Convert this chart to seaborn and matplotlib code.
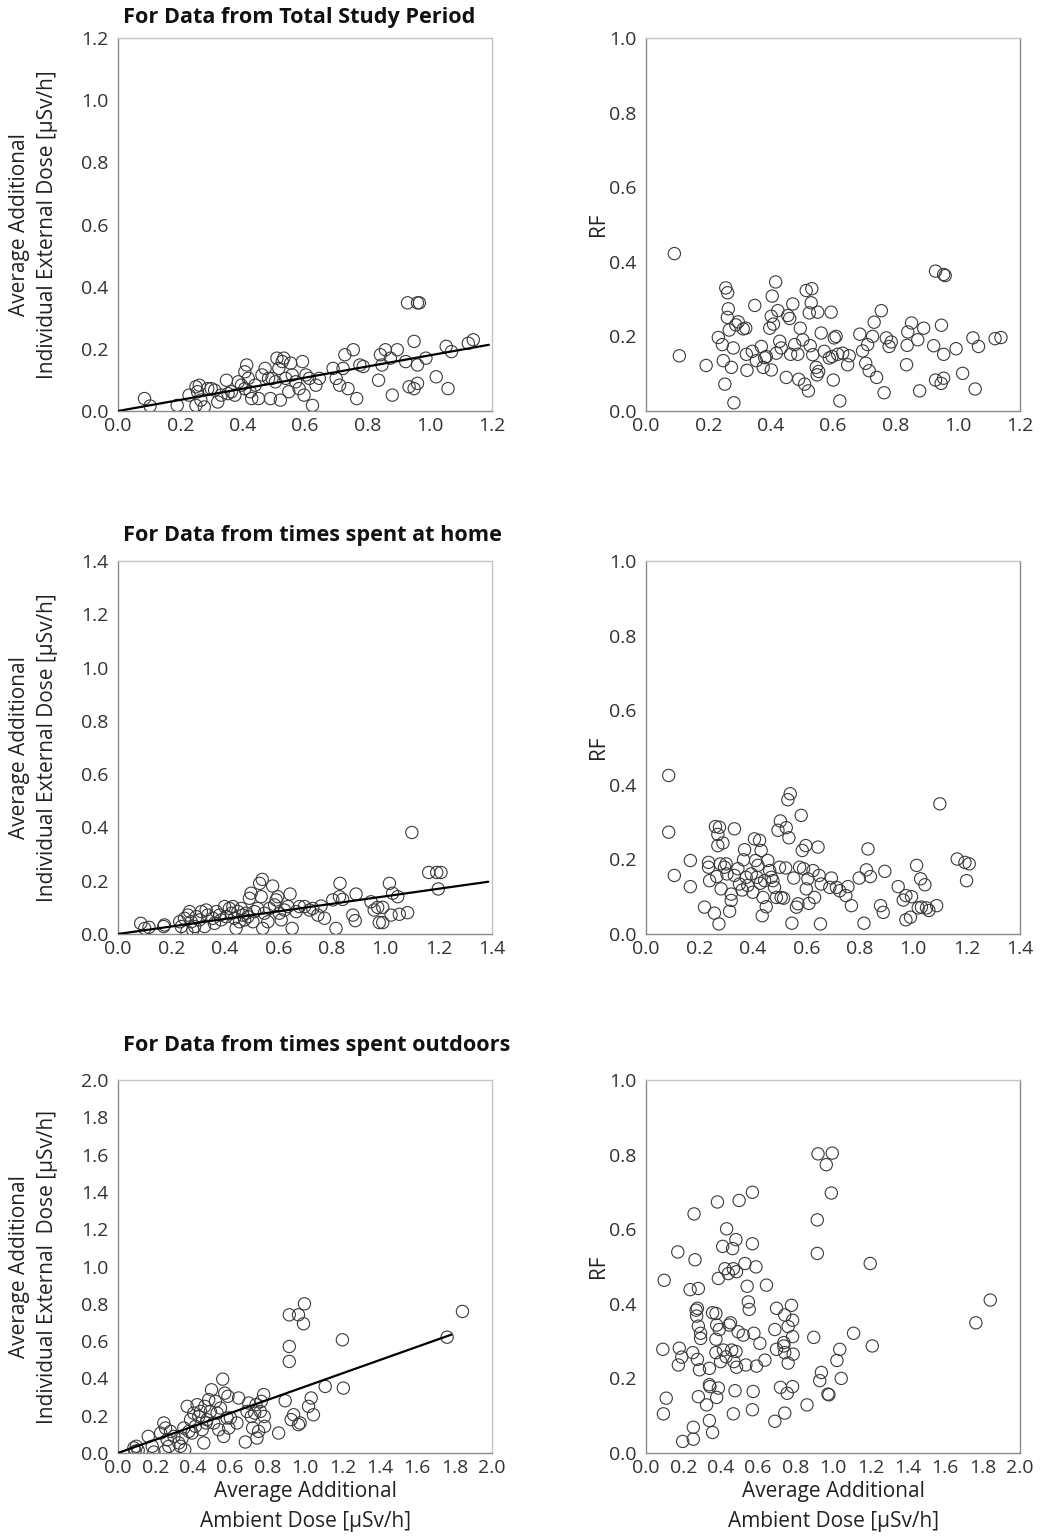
import matplotlib.pyplot as plt
import seaborn as sns
import pandas as pd

# ---- Row 1: total study period ----
tot_x = [0.085, 0.103, 0.190, 0.228, 0.250, 0.255, 0.261, 0.266, 0.250, 0.277, 0.288, 0.299,
         0.310, 0.320, 0.331, 0.348, 0.353, 0.364, 0.375, 0.386, 0.396, 0.407, 0.413, 0.407,
         0.418, 0.424, 0.429, 0.440, 0.451, 0.462, 0.472, 0.483, 0.489, 0.494, 0.505, 0.510,
         0.516, 0.521, 0.527, 0.532, 0.538, 0.548, 0.554, 0.559, 0.570, 0.581, 0.592, 0.597,
         0.603, 0.614, 0.624, 0.635, 0.646, 0.690, 0.700, 0.711, 0.722, 0.728, 0.738, 0.755,
         0.766, 0.776, 0.787, 0.836, 0.842, 0.847, 0.858, 0.874, 0.880, 0.896, 0.923, 0.934,
         0.950, 0.950, 0.961, 0.961, 0.929, 0.961, 0.967, 0.988, 1.021, 1.053, 1.059, 1.070,
         1.124, 1.140]
tot_y = [0.040, 0.016, 0.018, 0.051, 0.078, 0.062, 0.083, 0.035, 0.018, 0.013, 0.072, 0.072,
         0.067, 0.029, 0.051, 0.099, 0.056, 0.062, 0.051, 0.094, 0.083, 0.072, 0.148, 0.126,
         0.105, 0.062, 0.040, 0.083, 0.040, 0.116, 0.137, 0.105, 0.040, 0.105, 0.094, 0.170,
         0.137, 0.035, 0.159, 0.170, 0.105, 0.062, 0.154, 0.116, 0.094, 0.072, 0.159, 0.051,
         0.116, 0.105, 0.018, 0.083, 0.105, 0.137, 0.105, 0.083, 0.137, 0.181, 0.072, 0.197,
         0.040, 0.148, 0.143, 0.099, 0.181, 0.148, 0.197, 0.170, 0.051, 0.197, 0.159, 0.078,
         0.072, 0.224, 0.148, 0.089, 0.348, 0.348, 0.348, 0.170, 0.110, 0.208, 0.072, 0.191,
         0.218, 0.229]
tot_fit_slope = 0.179
tot_fit_xmax = 1.19

tot_rf_x = [0.091, 0.107, 0.193, 0.232, 0.245, 0.248, 0.253, 0.256, 0.262, 0.261, 0.264, 0.267,
            0.274, 0.280, 0.282, 0.288, 0.296, 0.312, 0.320, 0.322, 0.324, 0.341, 0.349, 0.354,
            0.370, 0.376, 0.381, 0.386, 0.397, 0.402, 0.402, 0.405, 0.409, 0.416, 0.418, 0.423,
            0.429, 0.434, 0.450, 0.455, 0.461, 0.464, 0.471, 0.477, 0.487, 0.490, 0.495, 0.503,
            0.509, 0.514, 0.521, 0.524, 0.527, 0.530, 0.532, 0.535, 0.546, 0.549, 0.551, 0.554,
            0.562, 0.572, 0.588, 0.594, 0.597, 0.601, 0.604, 0.610, 0.615, 0.622, 0.631, 0.647,
            0.652, 0.686, 0.695, 0.705, 0.711, 0.716, 0.727, 0.732, 0.740, 0.755, 0.764, 0.771,
            0.780, 0.787, 0.836, 0.838, 0.840, 0.852, 0.872, 0.878, 0.891, 0.923, 0.929, 0.929,
            0.947, 0.948, 0.955, 0.955, 0.955, 0.960, 0.995, 1.016, 1.049, 1.056, 1.067, 1.120,
            1.139]
tot_rf_y = [0.422, 0.148, 0.122, 0.197, 0.178, 0.135, 0.072, 0.330, 0.317, 0.251, 0.274, 0.217,
            0.117, 0.169, 0.022, 0.231, 0.239, 0.220, 0.222, 0.152, 0.109, 0.160, 0.283, 0.135,
            0.173, 0.117, 0.143, 0.146, 0.222, 0.254, 0.110, 0.308, 0.233, 0.346, 0.155, 0.269,
            0.187, 0.169, 0.090, 0.256, 0.248, 0.152, 0.287, 0.178, 0.152, 0.085, 0.222, 0.191,
            0.072, 0.323, 0.054, 0.263, 0.175, 0.290, 0.328, 0.151, 0.117, 0.097, 0.265, 0.106,
            0.209, 0.160, 0.142, 0.265, 0.146, 0.083, 0.196, 0.200, 0.152, 0.027, 0.155, 0.124,
            0.148, 0.206, 0.161, 0.128, 0.178, 0.108, 0.200, 0.238, 0.090, 0.269, 0.049, 0.196,
            0.173, 0.185, 0.124, 0.176, 0.212, 0.236, 0.191, 0.054, 0.222, 0.175, 0.083, 0.375,
            0.074, 0.230, 0.152, 0.088, 0.366, 0.363, 0.167, 0.101, 0.196, 0.059, 0.173, 0.194,
            0.197]

# ---- Row 2: times spent at home ----
home_x = [0.085, 0.100, 0.116, 0.171, 0.174, 0.231, 0.237, 0.249, 0.258, 0.262, 0.268, 0.274,
          0.280, 0.287, 0.293, 0.305, 0.312, 0.324, 0.330, 0.336, 0.355, 0.361, 0.368, 0.380,
          0.386, 0.399, 0.405, 0.417, 0.424, 0.430, 0.436, 0.442, 0.449, 0.455, 0.461, 0.467,
          0.474, 0.480, 0.486, 0.492, 0.498, 0.505, 0.511, 0.523, 0.530, 0.536, 0.540, 0.542,
          0.548, 0.561, 0.567, 0.579, 0.586, 0.592, 0.598, 0.604, 0.611, 0.623, 0.636, 0.644,
          0.652, 0.667, 0.679, 0.698, 0.717, 0.729, 0.748, 0.760, 0.773, 0.804, 0.816, 0.829,
          0.831, 0.841, 0.879, 0.888, 0.891, 0.947, 0.959, 0.972, 0.978, 0.991, 0.991, 1.016,
          1.022, 1.028, 1.047, 1.053, 1.084, 1.100, 1.163, 1.193, 1.209, 1.199]
home_y = [0.040, 0.021, 0.025, 0.028, 0.034, 0.046, 0.028, 0.059, 0.009, 0.071, 0.084, 0.046,
          0.015, 0.028, 0.065, 0.053, 0.084, 0.028, 0.090, 0.071, 0.059, 0.040, 0.084, 0.071,
          0.053, 0.103, 0.065, 0.096, 0.078, 0.103, 0.059, 0.021, 0.084, 0.046, 0.096, 0.071,
          0.053, 0.078, 0.065, 0.134, 0.153, 0.046, 0.084, 0.096, 0.190, 0.140, 0.205, 0.021,
          0.078, 0.046, 0.096, 0.180, 0.109, 0.128, 0.140, 0.078, 0.053, 0.090, 0.103, 0.150,
          0.021, 0.084, 0.103, 0.103, 0.090, 0.096, 0.071, 0.105, 0.059, 0.128, 0.021, 0.140,
          0.190, 0.130, 0.071, 0.050, 0.150, 0.121, 0.090, 0.100, 0.043, 0.043, 0.100, 0.190,
          0.071, 0.153, 0.140, 0.074, 0.080, 0.381, 0.231, 0.231, 0.231, 0.169]
home_fit_slope = 0.1415
home_fit_xmax = 1.386

home_rf_x = [0.085, 0.085, 0.106, 0.166, 0.166, 0.219, 0.234, 0.234, 0.238, 0.256, 0.260, 0.265,
             0.269, 0.273, 0.275, 0.269, 0.278, 0.281, 0.288, 0.294, 0.300, 0.303, 0.313, 0.319,
             0.319, 0.331, 0.331, 0.344, 0.350, 0.360, 0.365, 0.369, 0.375, 0.381, 0.394, 0.400,
             0.406, 0.410, 0.415, 0.419, 0.425, 0.428, 0.431, 0.435, 0.438, 0.444, 0.450, 0.456,
             0.463, 0.469, 0.475, 0.481, 0.488, 0.494, 0.500, 0.503, 0.506, 0.515, 0.523, 0.525,
             0.531, 0.535, 0.540, 0.546, 0.553, 0.563, 0.569, 0.575, 0.581, 0.585, 0.590, 0.598,
             0.600, 0.606, 0.610, 0.625, 0.631, 0.644, 0.648, 0.653, 0.656, 0.688, 0.694, 0.713,
             0.725, 0.748, 0.756, 0.769, 0.798, 0.816, 0.825, 0.831, 0.840, 0.878, 0.888, 0.894,
             0.944, 0.963, 0.973, 0.973, 0.990, 0.994, 1.013, 1.019, 1.028, 1.031, 1.044, 1.050,
             1.059, 1.088, 1.100, 1.165, 1.194, 1.210, 1.200]
home_rf_y = [0.425, 0.273, 0.157, 0.197, 0.127, 0.072, 0.192, 0.179, 0.143, 0.056, 0.288, 0.154,
             0.237, 0.027, 0.286, 0.267, 0.188, 0.121, 0.244, 0.179, 0.188, 0.161, 0.061, 0.107,
             0.090, 0.282, 0.157, 0.175, 0.134, 0.118, 0.199, 0.226, 0.152, 0.130, 0.161, 0.112,
             0.255, 0.197, 0.152, 0.184, 0.251, 0.136, 0.224, 0.049, 0.098, 0.143, 0.073, 0.197,
             0.170, 0.152, 0.143, 0.125, 0.098, 0.278, 0.179, 0.303, 0.098, 0.096, 0.177, 0.285,
             0.360, 0.258, 0.376, 0.029, 0.150, 0.072, 0.081, 0.179, 0.318, 0.224, 0.175, 0.237,
             0.121, 0.148, 0.082, 0.170, 0.098, 0.233, 0.157, 0.027, 0.134, 0.125, 0.150, 0.125,
             0.116, 0.103, 0.127, 0.076, 0.150, 0.029, 0.172, 0.228, 0.154, 0.076, 0.058, 0.168,
             0.127, 0.091, 0.103, 0.038, 0.045, 0.100, 0.184, 0.070, 0.148, 0.072, 0.132, 0.070,
             0.063, 0.076, 0.349, 0.201, 0.192, 0.188, 0.143]

# ---- Row 3: times spent outdoors ----
out_x = [0.085, 0.091, 0.098, 0.108, 0.162, 0.183, 0.192, 0.228, 0.245, 0.251, 0.254, 0.263,
         0.272, 0.281, 0.299, 0.325, 0.334, 0.343, 0.352, 0.357, 0.370, 0.379, 0.388, 0.396,
         0.405, 0.414, 0.423, 0.432, 0.441, 0.450, 0.459, 0.464, 0.471, 0.476, 0.485, 0.494,
         0.500, 0.512, 0.521, 0.530, 0.539, 0.548, 0.560, 0.565, 0.571, 0.583, 0.588, 0.592,
         0.601, 0.636, 0.645, 0.681, 0.690, 0.699, 0.713, 0.720, 0.731, 0.738, 0.743, 0.752,
         0.761, 0.766, 0.779, 0.782, 0.784, 0.859, 0.894, 0.916, 0.916, 0.916, 0.926, 0.939,
         0.965, 0.965, 0.974, 0.992, 0.997, 1.019, 1.033, 1.045, 1.108, 1.205, 1.200, 1.760,
         1.842]
out_y = [0.027, 0.009, 0.036, 0.014, 0.089, 0.036, 0.005, 0.107, 0.161, 0.009, 0.134, 0.071,
         0.036, 0.116, 0.089, 0.054, 0.036, 0.080, 0.134, 0.018, 0.250, 0.116, 0.179, 0.107,
         0.214, 0.143, 0.259, 0.196, 0.223, 0.125, 0.054, 0.250, 0.161, 0.179, 0.286, 0.223,
         0.339, 0.161, 0.277, 0.214, 0.125, 0.241, 0.396, 0.089, 0.321, 0.188, 0.304, 0.134,
         0.188, 0.161, 0.295, 0.059, 0.223, 0.268, 0.196, 0.134, 0.214, 0.259, 0.080, 0.116,
         0.223, 0.277, 0.313, 0.196, 0.143, 0.107, 0.280, 0.491, 0.571, 0.741, 0.179, 0.205,
         0.741, 0.152, 0.161, 0.693, 0.800, 0.250, 0.295, 0.205, 0.357, 0.348, 0.607, 0.621,
         0.759]
out_fit_slope = 0.356
out_fit_xmax = 1.783

out_rf_x = [0.090, 0.097, 0.093, 0.108, 0.170, 0.173, 0.178, 0.191, 0.196, 0.236, 0.250, 0.253,
            0.253, 0.257, 0.262, 0.268, 0.271, 0.275, 0.275, 0.280, 0.280, 0.280, 0.286, 0.292,
            0.292, 0.324, 0.339, 0.339, 0.342, 0.339, 0.356, 0.356, 0.374, 0.374, 0.378, 0.374,
            0.378, 0.382, 0.387, 0.387, 0.392, 0.399, 0.410, 0.414, 0.422, 0.428, 0.431, 0.440,
            0.445, 0.452, 0.458, 0.463, 0.467, 0.467, 0.470, 0.476, 0.481, 0.484, 0.481, 0.484,
            0.493, 0.498, 0.520, 0.529, 0.534, 0.541, 0.547, 0.552, 0.569, 0.569, 0.573, 0.569,
            0.577, 0.588, 0.591, 0.609, 0.636, 0.644, 0.689, 0.689, 0.698, 0.698, 0.719, 0.737,
            0.737, 0.742, 0.742, 0.742, 0.755, 0.760, 0.760, 0.778, 0.784, 0.784, 0.784, 0.787,
            0.861, 0.897, 0.916, 0.916, 0.920, 0.929, 0.938, 0.964, 0.973, 0.978, 0.991, 0.996,
            1.021, 1.036, 1.044, 1.110, 1.199, 1.210, 1.764, 1.841]
out_rf_y = [0.278, 0.463, 0.105, 0.147, 0.539, 0.236, 0.281, 0.257, 0.031, 0.438, 0.269, 0.037,
            0.069, 0.641, 0.518, 0.383, 0.367, 0.388, 0.251, 0.441, 0.340, 0.151, 0.223, 0.321,
            0.307, 0.129, 0.227, 0.183, 0.178, 0.087, 0.376, 0.055, 0.374, 0.305, 0.343, 0.269,
            0.149, 0.673, 0.468, 0.174, 0.331, 0.245, 0.554, 0.276, 0.494, 0.258, 0.601, 0.481,
            0.343, 0.349, 0.276, 0.548, 0.494, 0.105, 0.245, 0.167, 0.572, 0.486, 0.272, 0.230,
            0.325, 0.677, 0.316, 0.508, 0.236, 0.447, 0.405, 0.385, 0.699, 0.561, 0.165, 0.116,
            0.321, 0.499, 0.233, 0.294, 0.249, 0.450, 0.085, 0.331, 0.388, 0.278, 0.176, 0.296,
            0.287, 0.370, 0.269, 0.107, 0.160, 0.339, 0.241, 0.396, 0.312, 0.356, 0.178, 0.265,
            0.129, 0.310, 0.535, 0.625, 0.802, 0.194, 0.216, 0.773, 0.158, 0.156, 0.697, 0.804,
            0.248, 0.278, 0.200, 0.321, 0.508, 0.287, 0.349, 0.410]

titles = ["For Data from Total Study Period", "For Data from times spent at home",
          "For Data from times spent outdoors"]
dose_ylabels = ["Average Additional\nIndividual External Dose [\u03bcSv/h]",
                "Average Additional\nIndividual External Dose [\u03bcSv/h]",
                "Average Additional\nIndividual External  Dose [\u03bcSv/h]"]
xlabel = "Average Additional\nAmbient Dose [\u03bcSv/h]"
axis_max = [1.2, 1.4, 2.0]
dose_ymax = [1.2, 1.4, 2.0]

rows = [
    (tot_x, tot_y, tot_fit_slope, tot_fit_xmax, tot_rf_x, tot_rf_y),
    (home_x, home_y, home_fit_slope, home_fit_xmax, home_rf_x, home_rf_y),
    (out_x, out_y, out_fit_slope, out_fit_xmax, out_rf_x, out_rf_y),
]

sns.set_theme(style="white")
plt.rcParams['font.family'] = ['Open Sans', 'DejaVu Sans']
plt.rcParams['text.color'] = '#222222'
plt.rcParams['axes.labelcolor'] = '#222222'

fig = plt.figure(figsize=(10.5, 15.38), dpi=100)
W, H = 1050, 1538
ax_w, ax_h = 374 / W, 373 / H
lefts = [118 / W, 646 / W]
bottoms = [1 - 411 / H, 1 - 934 / H, 1 - 1453 / H]
title_y = [17, 535, 1045]

def style_ax(ax, xmax, ymax):
    ax.set_xlim(0, xmax)
    ax.set_ylim(0, ymax)
    ticks_x = [round(0.2 * i, 1) for i in range(int(round(xmax / 0.2)) + 1)]
    ticks_y = [round(0.2 * i, 1) for i in range(int(round(ymax / 0.2)) + 1)]
    ax.set_xticks(ticks_x)
    ax.set_yticks(ticks_y)
    ax.set_xticklabels([f"{t:.1f}" for t in ticks_x])
    ax.set_yticklabels([f"{t:.1f}" for t in ticks_y])
    for name, sp in ax.spines.items():
        sp.set_visible(True)
        sp.set_linewidth(1.0)
        sp.set_color('#8a8a8a' if name in ('left', 'bottom') else '#c4c4c4')
    ax.tick_params(axis='x', direction='in', length=5, width=1, color='#8a8a8a',
                   labelsize=14, labelcolor='#333333', pad=4)
    ax.tick_params(axis='y', direction='out', length=5, width=1, color='#8a8a8a',
                   labelsize=14, labelcolor='#333333', pad=2)

for r, (dx, dy, slope, fxmax, rx, ry) in enumerate(rows):
    # left: dose scatter with fit line
    ax = fig.add_axes([lefts[0], bottoms[r], ax_w, ax_h])
    df = pd.DataFrame({"ambient": dx, "individual": dy})
    sns.scatterplot(data=df, x="ambient", y="individual", ax=ax, s=78,
                    facecolor='none', edgecolor='#3a3a3a', linewidth=0.8, zorder=3)
    fit = pd.DataFrame({"ambient": [0.0, fxmax], "individual": [0.0, slope * fxmax]})
    sns.lineplot(data=fit, x="ambient", y="individual", ax=ax, color='black',
                 linewidth=1.6, zorder=4)
    style_ax(ax, axis_max[r], dose_ymax[r])
    ax.set_ylabel(dose_ylabels[r], fontsize=15, linespacing=1.45)
    ax.yaxis.set_label_coords(-0.16, 0.5)
    if r == 2:
        ax.set_xlabel(xlabel, fontsize=15, linespacing=1.6, labelpad=3)
    else:
        ax.set_xlabel("")
    fig.text(123 / W, 1 - title_y[r] / H, titles[r], fontsize=15.6, fontweight='bold',
             ha='left', va='center', color='#111111')

    # right: RF scatter
    ax2 = fig.add_axes([lefts[1], bottoms[r], ax_w, ax_h])
    df2 = pd.DataFrame({"ambient": rx, "RF": ry})
    sns.scatterplot(data=df2, x="ambient", y="RF", ax=ax2, s=78,
                    facecolor='none', edgecolor='#3a3a3a', linewidth=0.8, zorder=3)
    style_ax(ax2, axis_max[r], 1.0)
    ax2.spines['right'].set_color('#8a8a8a')
    ax2.set_ylabel("RF", fontsize=15)
    ax2.yaxis.set_label_coords(-0.1, 0.5)
    if r == 2:
        ax2.set_xlabel(xlabel, fontsize=15, linespacing=1.6, labelpad=3)
    else:
        ax2.set_xlabel("")

fig.savefig("out.png", dpi=100, facecolor='white')
